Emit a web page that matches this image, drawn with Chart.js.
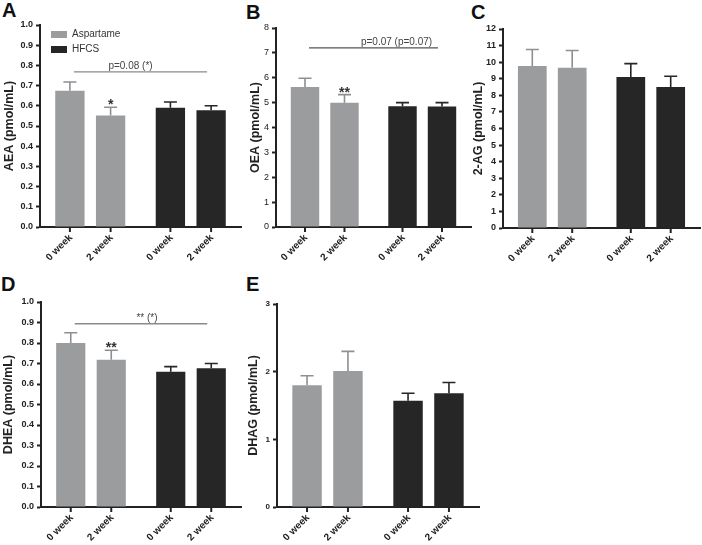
<!DOCTYPE html>
<html>
<head>
<meta charset="utf-8">
<script src="https://cdn.jsdelivr.net/npm/chart.js@4.4.1/dist/chart.umd.min.js"></script>
<style>
  body { margin: 0; background: #fff; width: 702px; height: 545px; overflow: hidden; position: relative; }
  canvas { position: absolute; }
  .letter { position: absolute; font: bold 20px/20px Arial, "Liberation Sans", sans-serif; color: #111; }
</style>
</head>
<body>
<div class="letter" style="left:2px;top:0px">A</div>
<div class="letter" style="left:246px;top:2px">B</div>
<div class="letter" style="left:471px;top:2px">C</div>
<div class="letter" style="left:1px;top:274px">D</div>
<div class="letter" style="left:246px;top:274px">E</div>

<canvas id="cA" width="245" height="270" style="left:0px;top:0px"></canvas>
<canvas id="cB" width="230" height="270" style="left:245px;top:0px"></canvas>
<canvas id="cC" width="234" height="270" style="left:468px;top:0px"></canvas>
<canvas id="cD" width="245" height="275" style="left:0px;top:270px"></canvas>
<canvas id="cE" width="240" height="275" style="left:243px;top:270px"></canvas>

<script>
const groups = ["Aspartame", "HFCS"];
const weeks = ["0 week", "2 week"];

// values in bar order: Aspartame 0 wk, Aspartame 2 wk, HFCS 0 wk, HFCS 2 wk
const aeaMean = [0.675, 0.552, 0.590, 0.578];
const aeaSem = [0.043, 0.041, 0.029, 0.022];
const oeaMean = [5.63, 5.00, 4.85, 4.84];
const oeaSem = [0.35, 0.32, 0.15, 0.16];
const agMean = [9.77, 9.67, 9.10, 8.50];
const agSem = [0.99, 1.03, 0.81, 0.65];
const dheaMean = [0.800, 0.718, 0.660, 0.677];
const dheaSem = [0.050, 0.047, 0.025, 0.023];
const dhagMean = [1.80, 2.01, 1.57, 1.68];
const dhagSem = [0.14, 0.29, 0.11, 0.16];

// y axes: max and step of the tick labels
const yMax = [1.0, 8, 12, 1.0, 3];
const yStep = [0.1, 1, 1, 0.1, 1];

const FONT = "Arial, 'Liberation Sans', sans-serif";
const GREY = "#9b9c9e";
const BLACK = "#262626";
const AXIS = "#222";
Chart.defaults.font.family = FONT;

const panels = [
  { id: "cA", title: "AEA (pmol/mL)", mean: aeaMean, sem: aeaSem, ax: 0,
    box: { top: 0, h: 270, left: 0, w: 245 }, axisX: 40, topY: 25, bottomY: 227, rightX: 241,
    tickFont: { size: 9, weight: "bold" }, dec: 1, titlePad: 2.5, legend: true,
    sig: { y: 0.768, text: "p=0.08 (*)", dx: -10, color: "#8a8a8a" },
    star: { bar: 1, text: "*" } },
  { id: "cB", title: "OEA (pmol/mL)", mean: oeaMean, sem: oeaSem, ax: 1,
    box: { top: 0, h: 270, left: 245, w: 230 }, axisX: 276, topY: 28, bottomY: 227, rightX: 471,
    tickFont: { size: 9, weight: "normal" }, dec: 0, titlePad: 3,
    sig: { y: 7.2, text: "p=0.07 (p=0.07)", dx: 23, color: "#555" },
    star: { bar: 1, text: "**" } },
  { id: "cC", title: "2-AG (pmol/mL)", mean: agMean, sem: agSem, ax: 2,
    box: { top: 0, h: 270, left: 468, w: 234 }, axisX: 503, topY: 29, bottomY: 228, rightX: 700,
    tickFont: { size: 9, weight: "bold" }, dec: 0, titlePad: 3 },
  { id: "cD", title: "DHEA (pmol/mL)", mean: dheaMean, sem: dheaSem, ax: 3,
    box: { top: 270, h: 275, left: 0, w: 245 }, axisX: 41, topY: 302, bottomY: 507, rightX: 241,
    tickFont: { size: 9, weight: "bold" }, dec: 1, titlePad: 1.3,
    sig: { y: 0.894, text: "** (*)", dx: 6, color: "#8a8a8a" },
    star: { bar: 1, text: "**" } },
  { id: "cE", title: "DHAG (pmol/mL)", mean: dhagMean, sem: dhagSem, ax: 4,
    box: { top: 270, h: 275, left: 243, w: 240 }, axisX: 277, topY: 304, bottomY: 507, rightX: 479,
    tickFont: { size: 8, weight: "bold" }, dec: 0, titlePad: 3.5 }
];

function overlay(p) {
  return {
    id: "overlay",
    afterDraw(chart) {
      const ctx = chart.ctx;
      const y = chart.scales.y;
      const area = chart.chartArea;
      const bars = [];
      for (let k = 0; k < 4; k++) {
        bars.push(chart.getDatasetMeta(k % 2).data[Math.floor(k / 2)]);
      }
      ctx.save();

      // error bars (upper only)
      bars.forEach((el, k) => {
        const top = y.getPixelForValue(p.mean[k] + p.sem[k]);
        ctx.strokeStyle = k < 2 ? "#8e8f91" : BLACK;
        ctx.lineWidth = 1.6;
        ctx.beginPath();
        ctx.moveTo(el.x, el.y);
        ctx.lineTo(el.x, top);
        ctx.moveTo(el.x - 6.5, top);
        ctx.lineTo(el.x + 6.5, top);
        ctx.stroke();
      });

      // x tick marks and rotated labels under each bar
      ctx.strokeStyle = AXIS;
      ctx.lineWidth = 2;
      ctx.fillStyle = AXIS;
      ctx.font = "bold 10px " + FONT;
      bars.forEach((el, k) => {
        ctx.beginPath();
        ctx.moveTo(el.x, area.bottom);
        ctx.lineTo(el.x, area.bottom + 5);
        ctx.stroke();
        ctx.save();
        ctx.translate(el.x + 1, area.bottom + 9);
        ctx.rotate(-Math.PI / 4);
        ctx.textAlign = "right";
        ctx.textBaseline = "middle";
        ctx.fillText(weeks[k % 2], 0, 0);
        ctx.restore();
      });

      // significance line across groups
      if (p.sig) {
        const x1 = bars[0].x + 4, x2 = bars[3].x - 4;
        const yy = y.getPixelForValue(p.sig.y);
        ctx.strokeStyle = p.sig.color;
        ctx.lineWidth = 1.3;
        ctx.beginPath();
        ctx.moveTo(x1, yy);
        ctx.lineTo(x2, yy);
        ctx.stroke();
        ctx.fillStyle = "#444";
        ctx.font = "10px " + FONT;
        ctx.textAlign = "center";
        ctx.textBaseline = "alphabetic";
        ctx.fillText(p.sig.text, (x1 + x2) / 2 + p.sig.dx, yy - 3);
      }

      // asterisks above a bar
      if (p.star) {
        const el = bars[p.star.bar];
        const top = y.getPixelForValue(p.mean[p.star.bar] + p.sem[p.star.bar]);
        ctx.fillStyle = "#333";
        ctx.font = "bold 14px " + FONT;
        ctx.textAlign = "center";
        ctx.textBaseline = "alphabetic";
        ctx.fillText(p.star.text, el.x, top + 2);
      }

      // legend inside the plot
      if (p.legend) {
        ctx.font = "10px " + FONT;
        ctx.textAlign = "left";
        ctx.textBaseline = "middle";
        groups.forEach((g, i) => {
          const ly = area.top + 6 + i * 15;
          ctx.fillStyle = i === 0 ? GREY : BLACK;
          ctx.fillRect(area.left + 11, ly, 16, 7);
          ctx.fillStyle = "#333";
          ctx.fillText(g, area.left + 32, ly + 3.5);
        });
      }
      ctx.restore();
    }
  };
}

panels.forEach((p) => {
  const b = p.box;
  new Chart(document.getElementById(p.id), {
    type: "bar",
    data: {
      labels: groups,
      datasets: weeks.map((w, i) => ({
        label: w,
        data: [p.mean[i], p.mean[i + 2]],
        backgroundColor: [GREY, BLACK],
        borderWidth: 0,
        categoryPercentage: 0.81,
        barPercentage: 0.72
      }))
    },
    options: {
      responsive: false,
      animation: false,
      devicePixelRatio: 1,
      layout: {
        padding: { left: 0, top: p.topY - b.top, right: b.left + b.w - p.rightX, bottom: 0 }
      },
      plugins: { legend: { display: false }, tooltip: { enabled: false } },
      scales: {
        x: {
          z: 1,
          ticks: { display: false },
          grid: { display: false },
          border: { display: true, width: 2, color: AXIS },
          afterFit: (s) => { s.height = b.top + b.h - p.bottomY; }
        },
        y: {
          z: 1,
          min: 0,
          max: yMax[p.ax],
          ticks: {
            stepSize: yStep[p.ax],
            color: AXIS,
            padding: 3,
            font: p.tickFont,
            callback: (v) => Number(v).toFixed(p.dec)
          },
          grid: { drawOnChartArea: false, drawTicks: true, tickLength: 4, tickWidth: 2, tickColor: AXIS },
          border: { display: true, width: 2, color: AXIS },
          title: {
            display: true,
            text: p.title,
            color: AXIS,
            font: { size: 12.5, weight: "bold" },
            padding: { top: p.titlePad, bottom: 0 }
          },
          afterFit: (s) => { s.width = p.axisX - b.left; }
        }
      }
    },
    plugins: [overlay(p)]
  });
});
</script>
</body>
</html>
